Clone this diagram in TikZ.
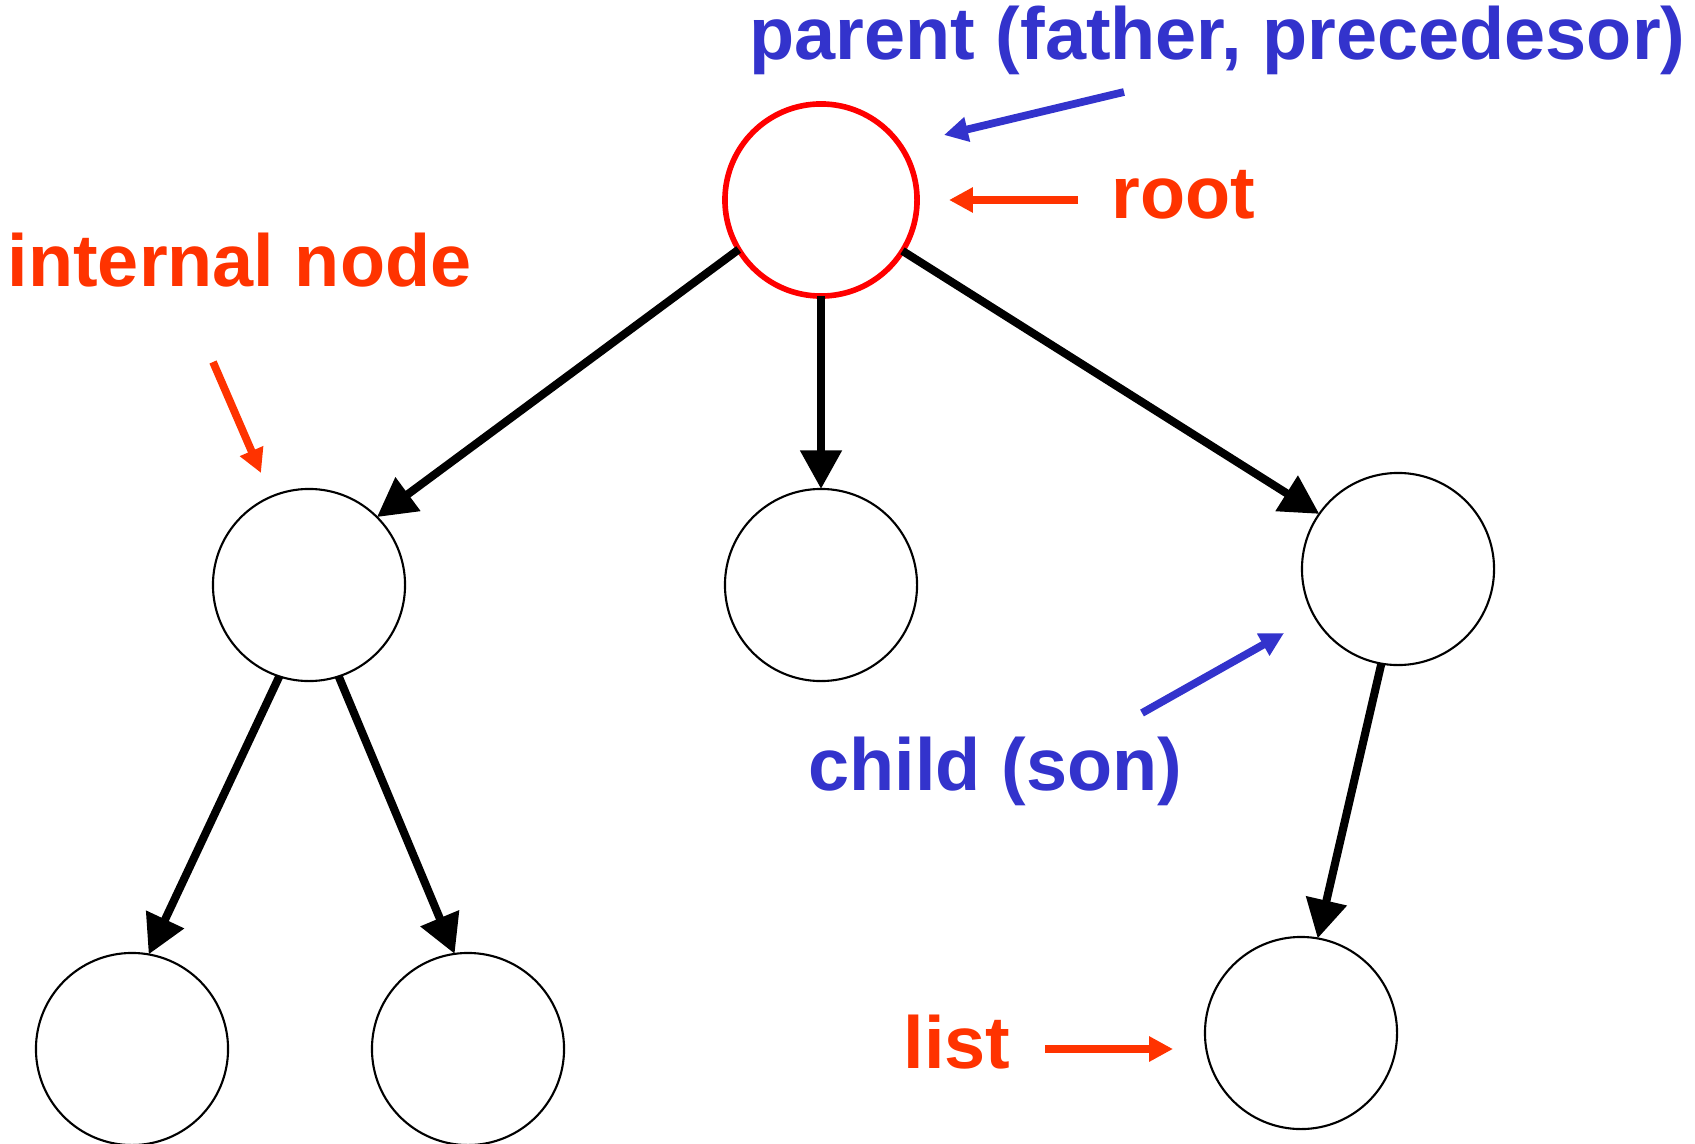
\documentclass[tikz,border=0pt]{standalone}
\usepackage{fontspec}
\setmainfont{Liberation Sans}
\usetikzlibrary{arrows.meta}
\definecolor{notered}{RGB}{255,51,0}
\definecolor{noteblue}{RGB}{51,51,204}
\begin{document}
\begin{tikzpicture}[x=0.01cm, y=-0.01cm,
	vertex/.style={circle, draw, line width=0.6pt, minimum size=1.92cm, inner sep=0mm, outer sep=0mm},
	edge/.style={line width=2.3pt, -{Triangle[length=11pt, width=11.4pt]}},
	note/.style={font=\bfseries\fontsize{21}{24}\selectfont, inner sep=0pt, anchor=base west},
	pointer/.style={line width=2.2pt, -{Triangle[length=6.8pt, width=6.8pt]}}]
			\useasboundingbox (0,0) rectangle (1695,1143);
			\node[vertex, draw=red, line width=1.6pt] at (821,200) (1) {};
			\node[vertex] at (309,585) (2) {};
			\node[vertex] at (821,585) (3) {};
			\node[vertex] at (1398,569) (4) {};
			\node[vertex] at (132,1049) (5) {};
			\node[vertex] at (468,1049) (6) {};
			\node[vertex] at (1301,1033) (7) {};
			\draw[edge] (1.211) -- (2.45);
			\draw[edge] (1.south) -- (3.north);
			\draw[edge] (1.328) -- (4.145);
			\draw[edge] (2.252) -- (5.80);
			\draw[edge] (2.288) -- (6.98);
			\draw[edge] (4.260) -- (7.80);
			\node[note, noteblue] at (749,60) (parent) {parent (father, precedesor)};
			\node[note, notered] at (1111,219) (root) {root};
			\node[note, notered] at (7,287) (internal) {internal node};
			\node[note, noteblue] at (808,790) (child) {child (son)};
			\node[note, notered] at (903,1068) (list) {list};
			\coordinate (p1) at (1124,92);
			\coordinate (p2) at (944,135);
			\coordinate (r1) at (1078,200);
			\coordinate (r2) at (949,200);
			\coordinate (i1) at (213,362);
			\coordinate (i2) at (261,473);
			\coordinate (c1) at (1142,713);
			\coordinate (c2) at (1284,633);
			\coordinate (l1) at (1045,1049);
			\coordinate (l2) at (1173,1049);
			\draw[pointer, noteblue] (p1) -- (p2);
			\draw[pointer, notered] (r1) -- (r2);
			\draw[pointer, notered] (i1) -- (i2);
			\draw[pointer, noteblue] (c1) -- (c2);
			\draw[pointer, notered] (l1) -- (l2);
		\end{tikzpicture}
\end{document}
